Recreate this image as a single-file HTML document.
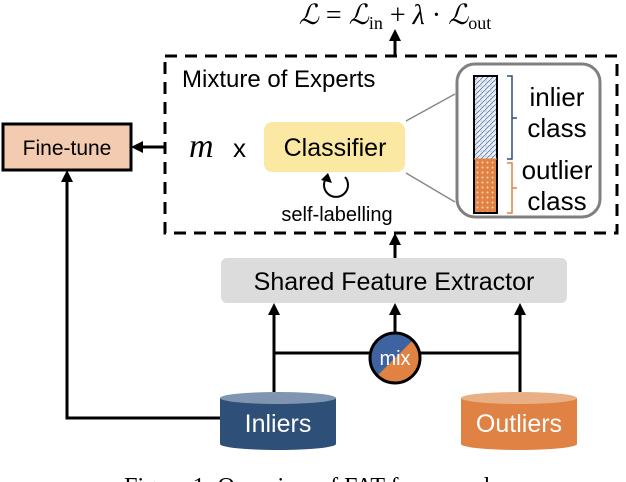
<!DOCTYPE html>
<html><head><style>body{margin:0;background:#fff}svg{display:block}</style></head><body>
<svg width="626" height="482" viewBox="0 0 626 482" xmlns="http://www.w3.org/2000/svg" font-family="Liberation Sans, sans-serif">
<defs>
<marker id="a" markerWidth="12" markerHeight="12" refX="9" refY="6" orient="auto" markerUnits="userSpaceOnUse"><path d="M0,0 L12,6 L0,12 z" fill="#000"/></marker>
<pattern id="hatch" width="5" height="5" patternUnits="userSpaceOnUse"><rect width="5" height="5" fill="#eef2f8"/><path d="M0,5 L5,0" stroke="#5a7aa8" stroke-width="0.8"/><circle cx="1" cy="1" r="0.5" fill="#5a7aa8"/></pattern>
<pattern id="dots" width="5" height="5" patternUnits="userSpaceOnUse"><rect width="5" height="5" fill="#e08244"/><circle cx="2.5" cy="2.5" r="1" fill="#f7d3b8"/></pattern>
</defs>
<text x="395" y="24" font-family="Liberation Serif, serif" font-size="28" text-anchor="middle"><tspan font-style="italic">ℒ</tspan> = <tspan font-style="italic">ℒ</tspan><tspan font-size="18" dy="5">in</tspan><tspan dy="-5"> + </tspan><tspan font-style="italic">λ</tspan> · <tspan font-style="italic">ℒ</tspan><tspan font-size="18" dy="5">out</tspan></text>
<g stroke="#000" stroke-width="3" fill="none">
<line x1="395" y1="55" x2="395" y2="32" marker-end="url(#a)"/>
<rect x="165" y="56" width="452" height="177" stroke-dasharray="12,8"/>
<line x1="165" y1="147" x2="134" y2="147" marker-end="url(#a)"/>
<line x1="395" y1="258" x2="395" y2="236" marker-end="url(#a)"/>
<line x1="274" y1="392" x2="274" y2="306" marker-end="url(#a)"/>
<line x1="520" y1="392" x2="520" y2="306" marker-end="url(#a)"/>
<line x1="395" y1="332" x2="395" y2="306" marker-end="url(#a)"/>
<line x1="274" y1="353" x2="520" y2="353"/>
<polyline points="220,418 67,418 67,173" marker-end="url(#a)"/>
</g>
<rect x="3" y="124" width="128" height="46" fill="#f2cbb0" stroke="#000" stroke-width="3"/>
<text x="67" y="155" font-size="21" text-anchor="middle">Fine-tune</text>
<text x="182" y="87" font-size="24">Mixture of Experts</text>
<text x="189" y="157" font-size="34" font-style="italic" font-family="Liberation Serif, serif">m</text>
<text x="233" y="157" font-size="26">x</text>
<rect x="264" y="122" width="141" height="50" rx="8" fill="#fbe8a3"/>
<text x="335" y="156" font-size="25" text-anchor="middle">Classifier</text>
<path d="M327,177 A12,12 0 1,0 345,177" fill="none" stroke="#000" stroke-width="2"/>
<path d="M321,180 L328,173 L332,183 z" fill="#000"/>
<text x="337" y="221" font-size="20" text-anchor="middle">self-labelling</text>
<line x1="406" y1="121" x2="455" y2="94" stroke="#888" stroke-width="1.5"/>
<line x1="406" y1="173" x2="455" y2="202" stroke="#888" stroke-width="1.5"/>
<rect x="457" y="64" width="143" height="153" rx="18" fill="#fff" stroke="#808080" stroke-width="3"/>
<rect x="474" y="76" width="23" height="83" fill="url(#hatch)"/>
<rect x="474" y="159" width="23" height="54" fill="url(#dots)"/>
<rect x="474" y="76" width="23" height="137" fill="none" stroke="#000" stroke-width="2"/>
<line x1="474" y1="159" x2="497" y2="159" stroke="#e08244" stroke-width="1"/>
<path d="M507,76 H512 V159 H507 M512,118 H517" fill="none" stroke="#2d4f78" stroke-width="1.5"/>
<path d="M507,163 H512 V213 H507 M512,188 H517" fill="none" stroke="#e08244" stroke-width="1.5"/>
<g font-size="26" text-anchor="middle"><text x="557" y="106">inlier</text><text x="557" y="137">class</text><text x="557" y="179">outlier</text><text x="557" y="210">class</text></g>
<rect x="221" y="258" width="346" height="45" rx="6" fill="#dcdcdc"/>
<text x="394" y="290" font-size="25" text-anchor="middle">Shared Feature Extractor</text>
<clipPath id="c"><circle cx="395" cy="358" r="25"/></clipPath>
<g clip-path="url(#c)"><rect x="370" y="333" width="50" height="50" fill="#e08244"/><path d="M370,333 H420 L370,383 z" fill="#3f62a0"/></g>
<circle cx="395" cy="358" r="25" fill="none" stroke="#000" stroke-width="3"/>
<text x="395" y="365" font-size="20" fill="#fff" text-anchor="middle">mix</text>
<path d="M220,398 V444 A58,6 0 0,0 336,444 V398 z" fill="#2d4f78"/>
<ellipse cx="278" cy="398" rx="58" ry="6" fill="#7f95b0"/>
<text x="278" y="432" font-size="25" fill="#fff" text-anchor="middle">Inliers</text>
<path d="M461,398 V444 A58,6 0 0,0 577,444 V398 z" fill="#e08244"/>
<ellipse cx="519" cy="398" rx="58" ry="6" fill="#e9b085"/>
<text x="519" y="432" font-size="25" fill="#fff" text-anchor="middle">Outliers</text>
<text x="313" y="494" font-size="24" font-family="Liberation Serif, serif" text-anchor="middle">Figure 1: Overview of FAT framework.</text>
</svg>
</body></html>
